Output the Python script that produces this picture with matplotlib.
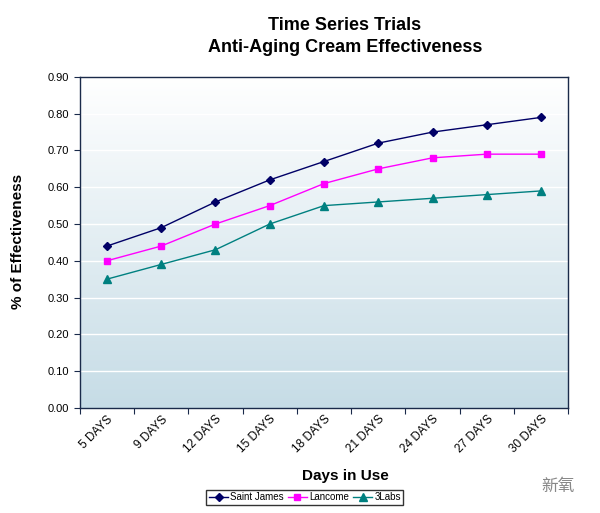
import numpy as np
import matplotlib
matplotlib.use('Agg')
import matplotlib.pyplot as plt
from matplotlib.colors import LinearSegmentedColormap

days = ['5 DAYS', '9 DAYS', '12 DAYS', '15 DAYS', '18 DAYS',
        '21 DAYS', '24 DAYS', '27 DAYS', '30 DAYS']
saint_james = [0.44, 0.49, 0.56, 0.62, 0.67, 0.72, 0.75, 0.77, 0.79]
lancome = [0.40, 0.44, 0.50, 0.55, 0.61, 0.65, 0.68, 0.69, 0.69]
labs3 = [0.35, 0.39, 0.43, 0.50, 0.55, 0.56, 0.57, 0.58, 0.59]

plt.rcParams['font.family'] = ['Liberation Sans', 'DejaVu Sans']

fig = plt.figure(figsize=(6, 5.13), dpi=100)
ax = fig.add_axes([0.133, 0.205, 0.814, 0.645])

x = np.arange(len(days))

# gradient background, white at the top going to pale blue at the bottom
cmap = LinearSegmentedColormap.from_list('bg', ['#ffffff', '#c6dce6'])
grad = np.linspace(0, 1, 256).reshape(-1, 1)
ax.imshow(grad, cmap=cmap, aspect='auto', origin='upper',
          extent=[-0.5, len(days) - 0.5, 0, 0.9], zorder=0)
ax.set_xlim(-0.5, len(days) - 0.5)
ax.set_ylim(0, 0.9)

for yv in np.arange(0.1, 0.9, 0.1):
    ax.axhline(yv, color='white', linewidth=1, zorder=1)

ax.plot(x, saint_james, color='#000066', marker='D', markersize=4.5,
        linewidth=1, label='Saint James', zorder=3)
ax.plot(x, lancome, color='#ff00ff', marker='s', markersize=5,
        linewidth=1, label='Lancome', zorder=3)
ax.plot(x, labs3, color='#008080', marker='^', markersize=5.5,
        linewidth=1, label='3Labs', zorder=3)

ax.set_yticks(np.arange(0, 0.91, 0.1))
ax.set_yticklabels(['%.2f' % v for v in np.arange(0, 0.91, 0.1)], fontsize=8)
ax.set_xticks(np.arange(-0.5, len(days)), minor=False)
ax.set_xticklabels([])
ax.set_xticks(x, minor=True)
ax.set_xticklabels(days, minor=True, rotation=45, ha='right', va='top',
                   fontsize=8.5, rotation_mode='anchor')
ax.tick_params(axis='x', which='minor', length=0, pad=4)
ax.tick_params(axis='x', which='major', length=4, direction='out', color='#1a2a4a')
ax.tick_params(axis='y', length=4, direction='out', color='#1a2a4a')

for s in ax.spines.values():
    s.set_color('#1a2a4a')
    s.set_linewidth(1)

fig.text(0.575, 0.950, 'Time Series Trials', ha='center', va='center',
         fontsize=13, fontweight='bold')
fig.text(0.575, 0.907, 'Anti-Aging Cream Effectiveness', ha='center', va='center',
         fontsize=13, fontweight='bold')
fig.text(0.03, 0.53, '% of Effectiveness', rotation=90, ha='center', va='center',
         fontsize=11, fontweight='bold')
fig.text(0.575, 0.072, 'Days in Use', ha='center', va='center',
         fontsize=11, fontweight='bold')

leg = fig.legend(loc='center', bbox_to_anchor=(0.508, 0.031), ncol=3,
                 fontsize=7, frameon=True, fancybox=False, handlelength=2.0,
                 handletextpad=0.2, columnspacing=0.4, borderpad=0.25)
leg.get_frame().set_edgecolor('black')
leg.get_frame().set_linewidth(1)

fig.text(0.958, 0.052, '新氧', ha='right', va='center', fontsize=12,
         color='#888888', family=['Noto Sans CJK SC', 'DejaVu Sans'])

fig.savefig('out.png', dpi=100)
